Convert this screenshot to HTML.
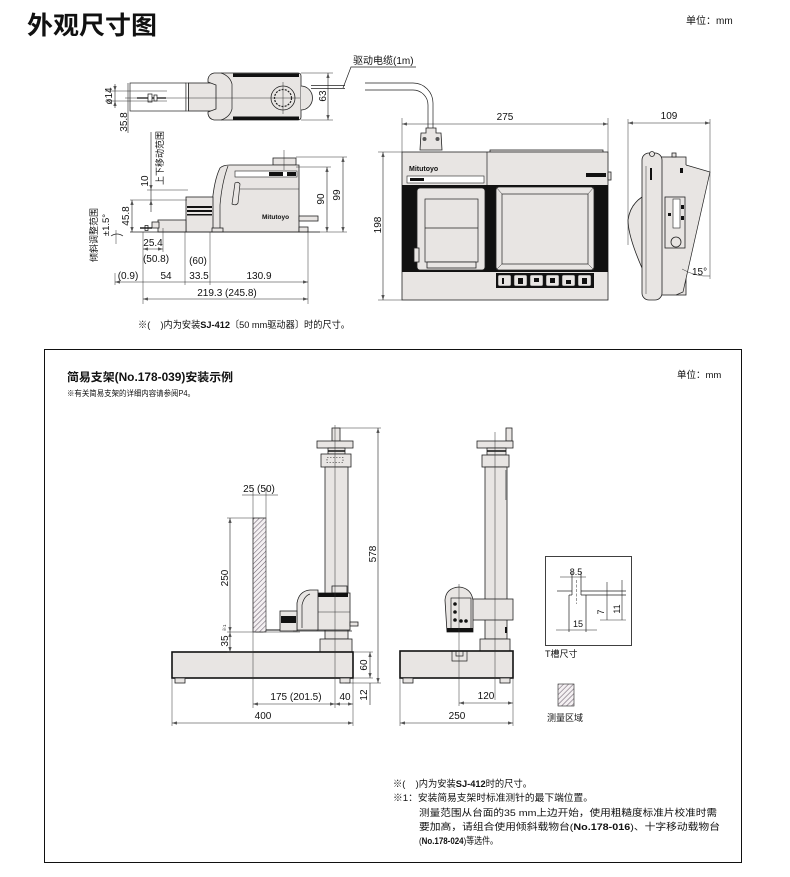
<!DOCTYPE html>
<html><head><meta charset="utf-8">
<style>
html,body{margin:0;padding:0;background:#fff;}
svg{display:block}
text{font-family:"Liberation Sans","Noto Sans CJK SC",sans-serif;fill:#111}
.d{font-size:10px}
.ln{stroke:#222;stroke-width:0.7;fill:none}
.th{stroke:#333;stroke-width:0.5;fill:none}
.b{fill:#e8e5e3;stroke:#222;stroke-width:0.8}
.k{fill:#111;stroke:none}
.dm{stroke:#222;stroke-width:0.6;fill:none}
</style></head><body>
<svg width="790" height="877" viewBox="0 0 790 877" xmlns="http://www.w3.org/2000/svg">
<defs>
<marker id="ar" viewBox="0 0 6 4" refX="6" refY="2" markerWidth="5" markerHeight="3.4" markerUnits="userSpaceOnUse" orient="auto-start-reverse"><path d="M0,0L6,2L0,4z" fill="#555"/></marker>
<pattern id="hat" patternUnits="userSpaceOnUse" width="3.5" height="3.5" patternTransform="rotate(45)"><rect width="3.5" height="3.5" fill="#f4f0f2"/><line x1="0" y1="0" x2="0" y2="3.5" stroke="#6d6270" stroke-width="1.1"/></pattern>
</defs>

<!-- ===== TOP HEADER ===== -->
<text x="27" y="34" font-size="25" font-weight="bold" textLength="130" lengthAdjust="spacingAndGlyphs">外观尺寸图</text>
<text x="686" y="24" font-size="10">单位：mm</text>

<!-- ===== PLAN VIEW (drive top) ===== -->
<rect x="130" y="83" width="56" height="28" fill="#fff" stroke="#222" stroke-width="0.7"/>
<rect x="186" y="83" width="2.5" height="28" fill="#fff" stroke="#222" stroke-width="0.6"/>
<rect x="188.5" y="83" width="28" height="28" class="b"/>
<path class="b" d="M214,73 L298,73 Q301,73 301,76 L301,117 Q301,120 298,120 L214,120 Q209,119 208,114 L208,112 L216,109 L216,85 L208,82 L208,79 Q209,74 214,73Z"/>
<path class="ln" d="M221,73 Q230,76 232,84 L232,109 Q230,117 221,120"/>
<rect x="233" y="73.5" width="66" height="3.5" class="k"/>
<rect x="233" y="116.5" width="66" height="3.5" class="k"/>
<path d="M301,86 A11,11.5 0 0 1 301,110" class="b"/>
<circle cx="283" cy="98" r="12" class="b"/>
<circle cx="283" cy="98" r="8.5" fill="none" stroke="#222" stroke-width="1.2" stroke-dasharray="2,1.2"/>
<line x1="125" y1="98" x2="300" y2="98" class="th"/>
<line x1="283" y1="82" x2="283" y2="114" class="th"/>
<line x1="137" y1="98" x2="166" y2="98" stroke="#111" stroke-width="1.3"/>
<rect x="148" y="94" width="4" height="8" fill="#fff" stroke="#111" stroke-width="0.7"/>
<rect x="154" y="95" width="3" height="6" fill="#fff" stroke="#111" stroke-width="0.7"/>
<!-- ø14 -->
<line x1="105" y1="91" x2="167" y2="91" class="th"/>
<line x1="105" y1="101" x2="167" y2="101" class="th"/>
<line x1="115" y1="84" x2="115" y2="91" class="dm" marker-end="url(#ar)"/>
<line x1="115" y1="108" x2="115" y2="101" class="dm" marker-end="url(#ar)"/>
<line x1="115" y1="91" x2="115" y2="101" class="dm"/>
<text class="d" text-anchor="middle" transform="translate(112,96) rotate(-90)">ø14</text>
<!-- 35.8 -->
<line x1="128" y1="83" x2="128" y2="133" class="dm"/>
<text class="d" text-anchor="middle" transform="translate(127,122) rotate(-90)">35.8</text>
<!-- 63 -->
<line x1="301" y1="73" x2="333" y2="73" class="th"/>
<line x1="301" y1="120" x2="333" y2="120" class="th"/>
<line x1="328" y1="73" x2="328" y2="120" class="dm" marker-start="url(#ar)" marker-end="url(#ar)"/>
<text class="d" text-anchor="middle" transform="translate(326,96) rotate(-90)">63</text>

<!-- cable -->
<line x1="311" y1="85.5" x2="345" y2="85.5" class="ln"/>
<line x1="311" y1="88.5" x2="345" y2="88.5" class="ln"/>
<path class="ln" d="M365,83 L413,83 A20,20 0 0 1 433,103 L433,128"/>
<path class="ln" d="M365,90 L413,90 A15,15 0 0 1 428,105 L428,128"/>
<polyline points="343,88 351,67 416,67" class="ln"/>
<text x="353" y="64" font-size="10">驱动电缆(1m)</text>
<!-- connector -->
<path class="b" d="M426,128 L436,128 L436,133 L441,133 L442,150 L420,150 L421,133 L426,133 Z"/>
<circle cx="424.5" cy="139" r="2" fill="#555"/>
<circle cx="437.5" cy="139" r="2" fill="#555"/>

<!-- ===== SIDE VIEW (drive) ===== -->
<rect x="273" y="158" width="23" height="7" class="b"/>
<path class="b" d="M212,232 L212,205 Q214,180 220,168 Q223,165 230,165 L299,165 L299,232 Z"/>
<path class="ln" d="M220,232 L220,205 Q222,182 228,166"/>
<rect x="235" y="171" width="62" height="6" fill="#fff" stroke="#222" stroke-width="0.6"/>
<rect x="269" y="172" width="14" height="4" class="k"/>
<rect x="287" y="172" width="9" height="4" class="k"/>
<path class="ln" d="M235,183 Q238,181 240,184 L238,203 Q236,206 232,204 Z"/>
<line x1="240" y1="189" x2="299" y2="189" class="th"/>
<text x="262" y="219" font-size="6.5" font-weight="bold">Mitutoyo</text>
<rect x="186" y="197" width="27" height="35" class="b"/>
<rect x="187" y="206" width="25" height="2" class="k"/>
<rect x="187" y="210" width="25" height="2" class="k"/>
<rect x="187" y="214" width="25" height="1.5" class="k"/>
<rect x="158" y="220" width="28" height="12" class="b"/>
<rect x="152" y="222" width="7" height="6" class="b"/>
<line x1="140" y1="228" x2="152" y2="228" stroke="#111" stroke-width="1.4"/>
<rect x="145" y="225.5" width="3" height="5" fill="none" stroke="#111" stroke-width="0.7"/>
<rect x="212" y="228" width="11" height="4" class="b"/>
<rect x="299" y="216" width="19" height="5" class="b"/>
<rect x="299" y="227" width="9" height="5" class="b"/>
<line x1="284" y1="150" x2="284" y2="170" class="th"/>
<line x1="130" y1="232" x2="320" y2="232" class="ln"/>
<!-- 99 / 90 -->
<line x1="296" y1="157" x2="347" y2="157" class="th"/>
<line x1="308" y1="232" x2="347" y2="232" class="th"/>
<line x1="343" y1="157" x2="343" y2="232" class="dm" marker-start="url(#ar)" marker-end="url(#ar)"/>
<text class="d" text-anchor="middle" transform="translate(340,195) rotate(-90)">99</text>
<line x1="296" y1="167" x2="331" y2="167" class="th"/>
<line x1="327" y1="167" x2="327" y2="232" class="dm" marker-start="url(#ar)" marker-end="url(#ar)"/>
<text class="d" text-anchor="middle" transform="translate(324,199) rotate(-90)">90</text>
<!-- 10 -->
<line x1="147" y1="190" x2="188" y2="190" class="th"/>
<line x1="130" y1="200" x2="187" y2="200" class="th"/>
<line x1="151" y1="132" x2="151" y2="190" class="dm" marker-end="url(#ar)"/>
<line x1="151" y1="212" x2="151" y2="200" class="dm" marker-end="url(#ar)"/>
<line x1="151" y1="190" x2="151" y2="200" class="dm"/>
<text class="d" text-anchor="middle" transform="translate(148,181) rotate(-90)">10</text>
<text font-size="9" text-anchor="middle" transform="translate(163,158) rotate(-90)">上下移动范围</text>
<!-- 45.8 -->
<line x1="132" y1="200" x2="132" y2="232" class="dm" marker-start="url(#ar)" marker-end="url(#ar)"/>
<text class="d" text-anchor="middle" transform="translate(129,216) rotate(-90)">45.8</text>
<text font-size="9" text-anchor="middle" transform="translate(97,235) rotate(-90)">倾斜调整范围</text>
<text font-size="9.5" text-anchor="middle" transform="translate(109,225) rotate(-90)">±1.5°</text>
<path class="ln" d="M111,236 Q117,232 123,236"/>
<line x1="116" y1="230" x2="116" y2="244" class="th"/>
<!-- horizontal dims -->
<line x1="143" y1="232" x2="143" y2="304" class="th"/>
<line x1="163" y1="228" x2="163" y2="252" class="th"/>
<line x1="185" y1="232" x2="185" y2="285" class="th"/>
<line x1="210" y1="232" x2="210" y2="285" class="th"/>
<line x1="308" y1="232" x2="308" y2="304" class="th"/>
<line x1="115" y1="273" x2="115" y2="285" class="th"/>
<line x1="143" y1="249" x2="163" y2="249" class="dm" marker-start="url(#ar)" marker-end="url(#ar)"/>
<text class="d" x="153" y="246" text-anchor="middle">25.4</text>
<text class="d" x="156" y="262" text-anchor="middle">(50.8)</text>
<text class="d" x="198" y="264" text-anchor="middle">(60)</text>
<line x1="115" y1="282" x2="308" y2="282" class="dm" marker-start="url(#ar)" marker-end="url(#ar)"/>
<text class="d" x="128" y="279" text-anchor="middle">(0.9)</text>
<text class="d" x="166" y="279" text-anchor="middle">54</text>
<text class="d" x="199" y="279" text-anchor="middle">33.5</text>
<text class="d" x="259" y="279" text-anchor="middle">130.9</text>
<line x1="143" y1="299" x2="308" y2="299" class="dm" marker-start="url(#ar)" marker-end="url(#ar)"/>
<text class="d" x="227" y="296" text-anchor="middle">219.3 (245.8)</text>
<text x="138" y="328" font-size="9.5" textLength="212" lengthAdjust="spacingAndGlyphs">※(&#160;&#160;&#160;&#160;)内为安装<tspan font-weight="bold">SJ-412</tspan>〔50 mm驱动器〕时的尺寸。</text>

<!-- ===== CONTROLLER FRONT ===== -->
<rect x="490" y="150" width="113" height="2.5" class="b"/>
<rect x="402" y="152" width="206" height="148" class="b"/>
<rect x="608" y="172" width="3" height="8" class="b"/>
<line x1="487" y1="152" x2="487" y2="185" class="ln"/>
<text x="409" y="171" font-size="7" font-weight="bold">Mitutoyo</text>
<rect x="407" y="176" width="77" height="7" fill="#fff" stroke="#222" stroke-width="0.6"/>
<rect x="410" y="178" width="14" height="3" class="k"/>
<rect x="586" y="173" width="20" height="4" class="k"/>
<rect x="402" y="185" width="206" height="87" fill="#111"/>
<rect x="417" y="188" width="68" height="82" rx="3" class="b"/>
<rect x="425" y="199" width="53" height="63" fill="none" stroke="#222" stroke-width="0.7"/>
<line x1="425" y1="228" x2="478" y2="228" class="ln"/>
<rect x="427" y="262" width="49" height="6" class="b"/>
<rect x="414" y="248" width="5" height="14" class="b"/>
<rect x="496" y="187" width="98" height="83" rx="3" class="b"/>
<rect x="502" y="194" width="86" height="70" fill="none" stroke="#222" stroke-width="0.7"/>
<path class="th" d="M496,187 L502,194 M594,187 L588,194 M496,270 L502,264 M594,270 L588,264"/>
<rect x="496" y="273" width="98" height="15" fill="#111"/>
<g fill="#e8e5e3" stroke="#222" stroke-width="0.5">
<rect x="498" y="275" width="13" height="11" rx="1.5"/>
<rect x="514" y="275" width="13" height="11" rx="1.5"/>
<rect x="530" y="275" width="13" height="11" rx="1.5"/>
<rect x="546" y="275" width="13" height="11" rx="1.5"/>
<rect x="562" y="275" width="13" height="11" rx="1.5"/>
<rect x="578" y="275" width="13" height="11" rx="1.5"/>
</g>
<g fill="#111">
<rect x="502" y="278" width="2" height="6"/><rect x="518" y="278" width="5" height="6"/><rect x="534" y="278" width="5" height="4"/><rect x="550" y="278" width="5" height="5"/><rect x="566" y="280" width="5" height="4"/><rect x="582" y="278" width="5" height="6"/>
</g>
<!-- 275 / 198 -->
<line x1="402" y1="118" x2="402" y2="152" class="th"/>
<line x1="608" y1="118" x2="608" y2="152" class="th"/>
<line x1="402" y1="124" x2="608" y2="124" class="dm" marker-start="url(#ar)" marker-end="url(#ar)"/>
<text class="d" x="505" y="120" text-anchor="middle">275</text>
<line x1="378" y1="152" x2="402" y2="152" class="th"/>
<line x1="378" y1="300" x2="402" y2="300" class="th"/>
<line x1="383" y1="152" x2="383" y2="300" class="dm" marker-start="url(#ar)" marker-end="url(#ar)"/>
<text class="d" text-anchor="middle" transform="translate(381,225) rotate(-90)">198</text>

<!-- ===== CONTROLLER SIDE ===== -->
<line x1="628" y1="119" x2="628" y2="245" class="th"/>
<line x1="710" y1="119" x2="710" y2="279" class="th"/>
<line x1="628" y1="123" x2="710" y2="123" class="dm" marker-start="url(#ar)" marker-end="url(#ar)"/>
<text class="d" x="669" y="119" text-anchor="middle">109</text>
<path class="b" d="M642,197 Q630,205 628,220 Q628,236 642,268 Z"/>
<rect x="660" y="157" width="26" height="138" class="b"/>
<rect x="672" y="153" width="4" height="4" class="b"/>
<path d="M686,165 L710,172 L683,292 L676,295 L676,165 Z" fill="#e8e5e3"/>
<path class="ln" d="M686,165 L710,172 L683,292 L676,295"/>
<rect x="642" y="153" width="20" height="147" rx="7" class="b"/>
<line x1="646" y1="166" x2="646" y2="294" class="th"/>
<circle cx="652" cy="154" r="2.5" class="b"/>
<rect x="650" y="168" width="2" height="12" class="k"/>
<rect x="680" y="168" width="3" height="5" class="k"/>
<rect x="665" y="197" width="20" height="51" class="b"/>
<rect x="673" y="199" width="7" height="29" fill="#fff" stroke="#222" stroke-width="0.6"/>
<rect x="681" y="205" width="3" height="4" class="k"/><rect x="681" y="216" width="3" height="4" class="k"/>
<rect x="668" y="213" width="3" height="3" class="k"/>
<circle cx="676" cy="242" r="5" class="b"/>
<path class="th" d="M682,269 Q696,277 710,276"/>
<text class="d" x="692" y="275">15°</text>

<!-- ===== BOTTOM BOX ===== -->
<rect x="44.5" y="349.5" width="697" height="513" fill="none" stroke="#111" stroke-width="1"/>
<text x="67" y="381" font-size="11.5" font-weight="bold" textLength="166" lengthAdjust="spacingAndGlyphs">简易支架(No.178-039)安装示例</text>
<text x="67" y="396" font-size="8" textLength="128" lengthAdjust="spacingAndGlyphs">※有关简易支架的详细内容请参阅P4。</text>
<text x="677" y="378" font-size="9.5">单位：mm</text>

<!-- left stand drawing -->
<rect x="332" y="428" width="8" height="13" class="b"/>
<rect x="317" y="441" width="36" height="7" class="b"/>
<rect x="328" y="448" width="17" height="6" class="b"/>
<line x1="328" y1="451" x2="345" y2="451" stroke="#111" stroke-width="1.5"/>
<rect x="321" y="454" width="30" height="13" class="b"/>
<rect x="327" y="457.5" width="16" height="5" fill="none" stroke="#222" stroke-width="0.6" stroke-dasharray="1.5,1.5"/>
<rect x="325" y="467" width="23" height="172" class="b"/>
<rect x="320" y="639" width="32" height="13" class="b"/>
<rect x="332" y="586" width="15" height="7" class="b"/>
<rect x="317" y="593" width="33" height="37" class="b"/>
<line x1="317" y1="612" x2="350" y2="612" class="th"/>
<rect x="308" y="593" width="40" height="4" class="k"/>
<path class="b" d="M297,630 L297,603 Q299,591 310,590 L318,590 L318,630 Z"/>
<path class="ln" d="M302,628 L302,605 Q304,596 310,594"/>
<rect x="280" y="611" width="17" height="20" class="b"/>
<rect x="281" y="616" width="15" height="7" class="k"/>
<line x1="266" y1="630" x2="280" y2="630" stroke="#111" stroke-width="1"/>
<rect x="256" y="627" width="7" height="5" fill="none" stroke="#111" stroke-width="0.8"/>
<line x1="293" y1="631" x2="352" y2="631" class="ln"/>
<rect x="350" y="622" width="8" height="4" class="b"/>
<rect x="253" y="518" width="13" height="114" fill="url(#hat)" stroke="#222" stroke-width="0.6"/>
<rect x="172" y="652" width="181" height="26" fill="#e8e5e3" stroke="#111" stroke-width="1.6"/>
<rect x="175" y="678" width="10" height="5" class="b"/>
<rect x="340" y="678" width="10" height="5" class="b"/>
<line x1="335" y1="425" x2="335" y2="708" class="th"/>
<line x1="253" y1="488" x2="253" y2="708" class="th"/>
<line x1="266" y1="488" x2="266" y2="518" class="th"/>
<line x1="242" y1="495" x2="278" y2="495" class="dm"/>
<text class="d" x="259" y="492" text-anchor="middle">25 (50)</text>
<line x1="227" y1="518" x2="266" y2="518" class="th"/>
<line x1="227" y1="632" x2="300" y2="632" class="th"/>
<line x1="227" y1="652" x2="253" y2="652" class="th"/>
<line x1="230" y1="518" x2="230" y2="632" class="dm" marker-start="url(#ar)" marker-end="url(#ar)"/>
<line x1="230" y1="632" x2="230" y2="652" class="dm" marker-start="url(#ar)" marker-end="url(#ar)"/>
<text class="d" text-anchor="middle" transform="translate(228,578) rotate(-90)">250</text>
<text class="d" text-anchor="middle" transform="translate(228,641) rotate(-90)">35</text>
<text font-size="4.5" text-anchor="middle" transform="translate(226,628) rotate(-90)">※1</text>
<line x1="336" y1="428" x2="381" y2="428" class="th"/>
<line x1="345" y1="683" x2="381" y2="683" class="th"/>
<line x1="378" y1="428" x2="378" y2="683" class="dm" marker-start="url(#ar)" marker-end="url(#ar)"/>
<text class="d" text-anchor="middle" transform="translate(376,554) rotate(-90)">578</text>
<line x1="353" y1="652" x2="373" y2="652" class="th"/>
<line x1="353" y1="678" x2="373" y2="678" class="th"/>
<line x1="370" y1="652" x2="370" y2="678" class="dm" marker-start="url(#ar)" marker-end="url(#ar)"/>
<line x1="370" y1="683" x2="370" y2="705" class="dm"/>
<text class="d" text-anchor="middle" transform="translate(367,665) rotate(-90)">60</text>
<text class="d" text-anchor="middle" transform="translate(367,695) rotate(-90)">12</text>
<line x1="353" y1="678" x2="353" y2="726" class="th"/>
<line x1="172" y1="678" x2="172" y2="726" class="th"/>
<line x1="253" y1="704" x2="335" y2="704" class="dm" marker-start="url(#ar)" marker-end="url(#ar)"/>
<line x1="335" y1="704" x2="353" y2="704" class="dm" marker-start="url(#ar)" marker-end="url(#ar)"/>
<text class="d" x="296" y="700" text-anchor="middle">175 (201.5)</text>
<text class="d" x="345" y="700" text-anchor="middle">40</text>
<line x1="172" y1="723" x2="353" y2="723" class="dm" marker-start="url(#ar)" marker-end="url(#ar)"/>
<text class="d" x="263" y="719" text-anchor="middle">400</text>

<!-- right stand drawing -->
<rect x="506" y="428" width="6" height="13" class="b"/>
<rect x="477" y="441" width="36" height="7" class="b"/>
<rect x="487" y="448" width="19" height="7" class="b"/>
<line x1="487" y1="451" x2="506" y2="451" stroke="#111" stroke-width="1.5"/>
<rect x="482" y="455" width="27" height="12" class="b"/>
<rect x="485" y="467" width="22" height="172" class="b"/>
<line x1="506" y1="470" x2="506" y2="500" stroke="#888" stroke-width="1.5"/>
<rect x="472" y="599" width="41" height="21" class="b"/>
<rect x="505" y="627" width="2" height="6" class="k"/>
<rect x="480" y="639" width="30" height="12" class="b"/>
<rect x="400" y="651" width="113" height="27" fill="#e8e5e3" stroke="#111" stroke-width="1.6"/>
<path class="ln" d="M452,651 L452,661 L467,661 L467,651"/>
<path class="ln" d="M456,651 L456,656 L463,656 L463,651"/>
<rect x="403" y="678" width="10" height="5" class="b"/>
<rect x="500" y="678" width="10" height="5" class="b"/>
<path class="b" d="M447,632 L445,600 Q446,588 459,587 Q471,588 473,600 L473,632 Z"/>
<rect x="451" y="598" width="20" height="31" fill="#e8e5e3" stroke="#222" stroke-width="0.7"/>
<rect x="447" y="628" width="26" height="4" class="k"/>
<g fill="#111"><circle cx="455" cy="604" r="1.8"/><circle cx="455" cy="612" r="1.8"/><circle cx="455" cy="620" r="1.8"/><circle cx="461" cy="621" r="1.8"/><circle cx="466" cy="621" r="1.8"/></g>
<line x1="495" y1="432" x2="495" y2="700" class="th"/>
<line x1="459" y1="584" x2="459" y2="706" class="th"/>
<line x1="400" y1="678" x2="400" y2="726" class="th"/>
<line x1="513" y1="678" x2="513" y2="726" class="th"/>
<line x1="459" y1="703" x2="513" y2="703" class="dm" marker-start="url(#ar)" marker-end="url(#ar)"/>
<text class="d" x="486" y="699" text-anchor="middle">120</text>
<line x1="400" y1="723" x2="513" y2="723" class="dm" marker-start="url(#ar)" marker-end="url(#ar)"/>
<text class="d" x="457" y="719" text-anchor="middle">250</text>

<!-- T-slot -->
<rect x="545.5" y="556.5" width="86" height="89" fill="none" stroke="#111" stroke-width="0.8"/>
<text x="576" y="575" font-size="9" text-anchor="middle">8.5</text>
<line x1="560" y1="577" x2="586" y2="577" class="dm"/>
<line x1="572" y1="572" x2="572" y2="595" class="ln"/>
<line x1="581" y1="572" x2="581" y2="595" class="ln"/>
<line x1="576.5" y1="580" x2="576.5" y2="604" class="th" stroke-dasharray="3,1.5"/>
<line x1="557" y1="591" x2="572" y2="591" class="ln"/>
<line x1="581" y1="591" x2="626" y2="591" class="ln"/>
<line x1="569" y1="595" x2="572" y2="595" class="ln"/>
<line x1="581" y1="595" x2="626" y2="595" class="ln"/>
<line x1="569" y1="595" x2="569" y2="632" class="ln"/>
<line x1="586" y1="595" x2="586" y2="632" class="ln"/>
<line x1="556" y1="630" x2="597" y2="630" class="dm"/>
<text x="578" y="627" font-size="9" text-anchor="middle">15</text>
<line x1="607" y1="582" x2="607" y2="620" class="dm"/>
<line x1="622" y1="580" x2="622" y2="620" class="dm"/>
<line x1="600" y1="620" x2="626" y2="620" class="th"/>
<text font-size="9" text-anchor="middle" transform="translate(604,612) rotate(-90)">7</text>
<text font-size="9" text-anchor="middle" transform="translate(620,609) rotate(-90)">11</text>
<text x="545" y="657" font-size="9">T槽尺寸</text>
<rect x="558" y="684" width="16" height="22" fill="url(#hat)" stroke="#222" stroke-width="0.6"/>
<text x="547" y="721" font-size="9">测量区域</text>

<!-- footnotes -->
<text x="393" y="787" font-size="9.5" textLength="139" lengthAdjust="spacingAndGlyphs">※(&#160;&#160;&#160;&#160;)内为安装<tspan font-weight="bold">SJ-412</tspan>时的尺寸。</text>
<text x="393" y="801" font-size="9.5" textLength="200" lengthAdjust="spacingAndGlyphs">※1：安装简易支架时标准测针的最下端位置。</text>
<text x="419" y="816" font-size="9.5" textLength="298" lengthAdjust="spacingAndGlyphs">测量范围从台面的35 mm上边开始，使用粗糙度标准片校准时需</text>
<text x="419" y="830" font-size="9.5" textLength="301" lengthAdjust="spacingAndGlyphs">要加高，请组合使用倾斜载物台(<tspan font-weight="bold">No.178-016</tspan>)、十字移动载物台</text>
<text x="419" y="844" font-size="9.5" textLength="79" lengthAdjust="spacingAndGlyphs">(<tspan font-weight="bold">No.178-024</tspan>)等选件。</text>
</svg>
</body></html>
